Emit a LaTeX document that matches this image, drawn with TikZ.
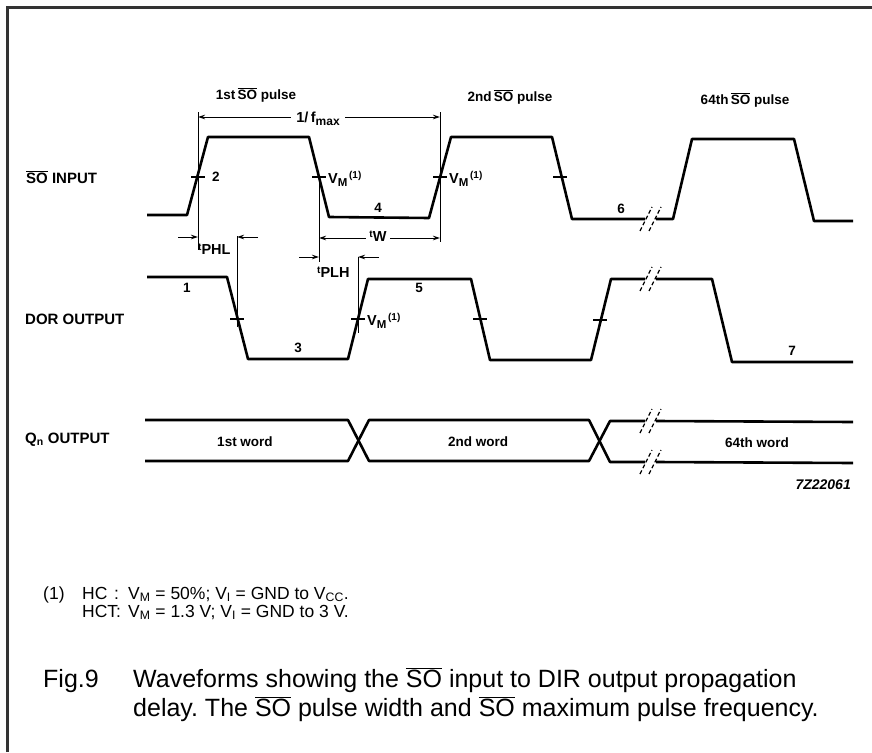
\documentclass[tikz,border=0pt]{standalone}
\usepackage{fontspec}
\setmainfont{Liberation Sans}
\usetikzlibrary{arrows.meta}
\frenchspacing
\newcommand\ovl[1]{$\overline{\mbox{#1}}$}
\newcommand\tsmall[1]{\raisebox{4pt}{\fontsize{10}{10}\selectfont #1}}
\newcommand\vmlab{V\raisebox{-3.5pt}{\fontsize{11.5}{11.5}\selectfont M}\raisebox{5pt}{\fontsize{10}{10}\selectfont\,(1)}}
\begin{document}
\begin{tikzpicture}[x=1pt,y=-1pt,
  wave/.style={line width=2.6pt, line join=round},
  vtick/.style={line width=1.6pt},
  guide/.style={line width=1pt},
  dimone/.style={line width=1pt, -{Stealth[length=7pt,width=4.5pt]}},
  dimtwo/.style={line width=1pt, {Stealth[length=7pt,width=4.5pt]}-{Stealth[length=7pt,width=4.5pt]}},
  brk/.style={line width=1.3pt, dash pattern=on 4pt off 2.5pt},
  lbl/.style={font=\fontsize{13.5}{13.5}\selectfont\bfseries, inner sep=1pt},
  tlbl/.style={font=\fontsize{14.5}{14.5}\selectfont\bfseries, inner sep=1pt},
  sig/.style={font=\fontsize{15}{15}\selectfont\bfseries, inner sep=0pt, anchor=west},
  note/.style={font=\fontsize{17.5}{17.5}\selectfont, inner sep=0pt, anchor=base west},
  capt/.style={font=\fontsize{25}{25}\selectfont, inner sep=0pt, anchor=base west}]
\useasboundingbox (0,0) rectangle (872,752);
% frame
\draw[line width=3pt, color=black!80] (7,752) -- (7,8) -- (872,8);

% SO input waveform
\draw[wave] (147,215) -- (187,215) -- (208,137) -- (309,137) -- (329,217) -- (429,218) -- (451,137) -- (552,137) -- (572,219) -- (645,219);
\draw[wave] (656,219) -- (673,219) -- (692,139) -- (794,139) -- (814,221) -- (853,221);
\draw[brk] (640,231) -- (652,207);
\draw[brk] (649,231) -- (661,207);

% DOR output waveform
\draw[wave] (147,277) -- (227,277) -- (248,359) -- (348,359) -- (368,279) -- (471,279) -- (490,360) -- (591,360) -- (611,279) -- (645,279);
\draw[wave] (656,279) -- (712,279) -- (732,362) -- (853,362);
\draw[brk] (640,291) -- (652,267);
\draw[brk] (649,291) -- (661,267);

% Qn output
\draw[wave] (145,420) -- (348,420) -- (369,461) -- (589,461) -- (610,421) -- (645,421);
\draw[wave] (145,461) -- (348,461) -- (369,420) -- (589,420) -- (610,462) -- (645,462);
\draw[wave] (656,421) -- (853,422);
\draw[wave] (656,462) -- (853,463);
\draw[brk] (640,433) -- (652,409);
\draw[brk] (649,433) -- (661,409);
\draw[brk] (640,474) -- (652,450);
\draw[brk] (649,474) -- (661,450);

% VM ticks
\foreach \x/\y in {198/177,319/177,440/177,560/177,237/319,358/319,480/319,600/320}
  \draw[vtick] (\x-7,\y) -- (\x+7,\y);

% guide lines
\coordinate (g1t) at (198,112); \coordinate (g1b) at (198,250);
\coordinate (g2t) at (440,112); \coordinate (g2b) at (440,242);
\coordinate (g3t) at (319,177); \coordinate (g3b) at (319,262);
\coordinate (g4t) at (237,236); \coordinate (g4b) at (237,327);
\coordinate (g5t) at (358,257); \coordinate (g5b) at (358,333);
\draw[guide] (g1t) -- (g1b);
\draw[guide] (g2t) -- (g2b);
\draw[guide] (g3t) -- (g3b);
\draw[guide] (g4t) -- (g4b);
\draw[guide] (g5t) -- (g5b);

% 1/fmax
\coordinate (fa) at (198,117); \coordinate (fb) at (440,117);
\draw[dimtwo] (fa) -- (fb);
\node[tlbl, fill=white, inner xsep=5pt] (fmax) at (318,119) {1/\,f\raisebox{-3pt}{\fontsize{12}{12}\selectfont max}};
% tW
\coordinate (wa) at (319,238); \coordinate (wb) at (440,238);
\draw[dimtwo] (wa) -- (wb);
\node[tlbl, fill=white, inner xsep=3pt] (tw) at (378,236) {\tsmall{t}W};
% tPHL
\coordinate (pa) at (178,237); \coordinate (pb) at (198,237);
\coordinate (pc) at (258,237); \coordinate (pd) at (237,237);
\draw[dimone] (pa) -- (pb);
\draw[dimone] (pc) -- (pd);
\node[tlbl, anchor=west] (tphl) at (197,249) {\tsmall{t}PHL};
% tPLH
\coordinate (qa) at (299,257); \coordinate (qb) at (319,257);
\coordinate (qc) at (379,257); \coordinate (qd) at (358,257);
\draw[dimone] (qa) -- (qb);
\draw[dimone] (qc) -- (qd);
\node[tlbl, anchor=west] (tplh) at (316,272) {\tsmall{t}PLH};

% pulse titles
\node[lbl] (p1) at (256,95) {1st\,\ovl{SO} pulse};
\node[lbl] (p2) at (510,97) {2nd\,\ovl{SO} pulse};
\node[lbl] (p64) at (745,100) {64th\,\ovl{SO} pulse};

% signal names
\node[sig] (so) at (26,177) {\ovl{SO} INPUT};
\node[sig] (dor) at (25,319) {DOR OUTPUT};
\node[sig] (qn) at (25,440) {Q\textsubscript{n} OUTPUT};

% numbers
\node[lbl] (n2) at (216,177) {2};
\node[lbl] (n4) at (378,208) {4};
\node[lbl] (n6) at (621,209) {6};
\node[lbl] (n1) at (187,288) {1};
\node[lbl] (n3) at (298,348) {3};
\node[lbl] (n5) at (419,288) {5};
\node[lbl] (n7) at (792,351) {7};

% VM labels
\node[tlbl, anchor=west] (vm1) at (327,179) {\vmlab};
\node[tlbl, anchor=west] (vm2) at (448,179) {\vmlab};
\node[tlbl, anchor=west] (vm3) at (366,321) {\vmlab};

% words
\node[lbl] (w1) at (245,442) {1st word};
\node[lbl] (w2) at (478,442) {2nd word};
\node[lbl] (w64) at (757,443) {64th word};
\node[lbl, anchor=east, font=\fontsize{14}{14}\selectfont\bfseries\itshape] (code) at (852,485) {7Z22061};

% footnote
\node[note] (f1) at (43,599) {(1)};
\node[note] (f2) at (82,599) {HC};
\node[note] (f3) at (114,599) {:};
\node[note] (f4) at (128,599) {V\textsubscript{M} = 50\%; V\textsubscript{I} = GND to V\textsubscript{CC}.};
\node[note] (f5) at (82,617) {HCT:};
\node[note] (f6) at (128,617) {V\textsubscript{M} = 1.3 V; V\textsubscript{I} = GND to 3 V.};

% caption
\node[capt] (c1) at (43,687) {Fig.9};
\node[capt] (c2) at (133,687) {Waveforms showing the \ovl{SO} input to DIR output propagation};
\node[capt] (c3) at (133,716) {delay. The \ovl{SO} pulse width and \ovl{SO} maximum pulse frequency.};
\end{tikzpicture}
\end{document}
